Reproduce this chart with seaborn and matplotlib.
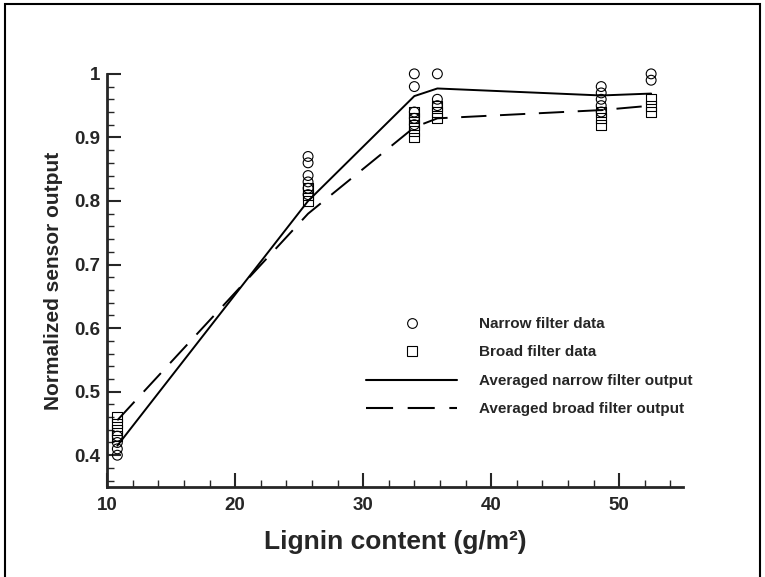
import numpy as np
import pandas as pd
import matplotlib
matplotlib.use("Agg")
import matplotlib.pyplot as plt
from matplotlib.lines import Line2D
from matplotlib.patches import Rectangle
from matplotlib.ticker import MultipleLocator, FuncFormatter
import seaborn as sns

# ---- data ----
lignin = [10.8, 25.7, 34.0, 35.8, 48.6, 52.5]
narrow_points = [
    [0.40, 0.41, 0.42, 0.43],
    [0.87, 0.86, 0.84, 0.83, 0.82, 0.81],
    [1.00, 0.98, 0.94, 0.93, 0.92],
    [1.00, 0.96, 0.95],
    [0.98, 0.97, 0.96, 0.95, 0.94],
    [1.00, 0.99],
]
broad_points = [
    [0.43, 0.44, 0.45, 0.46],
    [0.80, 0.81, 0.82],
    [0.94, 0.93, 0.92, 0.91, 0.90],
    [0.95, 0.94, 0.93],
    [0.94, 0.93, 0.92],
    [0.96, 0.95, 0.94],
]
narrow_avg = [0.415, 0.80, 0.965, 0.977, 0.966, 0.969]
broad_avg = [0.455, 0.78, 0.916, 0.930, 0.943, 0.950]

labels = ["Narrow filter data", "Broad filter data",
          "Averaged narrow filter output", "Averaged broad filter output"]
xlabel = "Lignin content (g/m²)"
ylabel = "Normalized sensor output"

# ---- tables ----
rows = []
for x, ys in zip(lignin, narrow_points):
    for y in ys:
        rows.append(dict(x=x, y=y, kind="narrow"))
for x, ys in zip(lignin, broad_points):
    for y in ys:
        rows.append(dict(x=x, y=y, kind="broad"))
pts = pd.DataFrame(rows)
avg = pd.DataFrame(dict(x=lignin, narrow=narrow_avg, broad=broad_avg))

sns.set_style("ticks")
plt.rcParams["font.family"] = ["Liberation Sans", "DejaVu Sans"]
plt.rcParams["font.weight"] = "bold"

fig = plt.figure(figsize=(7.65, 5.77), dpi=100)
ax = fig.add_axes([0.140, 0.156, 0.753, 0.716])

sns.lineplot(data=avg, x="x", y="narrow", ax=ax, color="black", lw=1.4,
             sort=False, estimator=None)
sns.lineplot(data=avg, x="x", y="broad", ax=ax, color="black", lw=1.4,
             sort=False, estimator=None)
ax.lines[1].set_dashes((13, 7))

sns.scatterplot(data=pts[pts.kind == "narrow"], x="x", y="y", ax=ax,
                marker="o", s=50, facecolor="none", edgecolor="black",
                linewidth=0.8, clip_on=False, zorder=3)
sns.scatterplot(data=pts[pts.kind == "broad"], x="x", y="y", ax=ax,
                marker="s", s=50, facecolor="none", edgecolor="black",
                linewidth=0.8, clip_on=False, zorder=3)

ax.set_xlim(10, 55)
ax.set_ylim(0.35, 1.0)
ax.xaxis.set_major_locator(MultipleLocator(10))
ax.xaxis.set_minor_locator(MultipleLocator(2))
ax.yaxis.set_major_locator(MultipleLocator(0.1))
ax.yaxis.set_minor_locator(MultipleLocator(0.02))
ax.yaxis.set_major_formatter(FuncFormatter(lambda v, p: f"{v:g}"))
ax.tick_params(which="major", direction="in", length=10, width=1.5,
               labelsize=13.5, pad=5)
ax.tick_params(axis="x", which="major", pad=7)
ax.tick_params(which="minor", direction="in", length=5, width=1.0)
for lab in ax.get_xticklabels() + ax.get_yticklabels():
    lab.set_fontweight("bold")
sns.despine(ax=ax)
for s in ("left", "bottom"):
    ax.spines[s].set_linewidth(2)

ax.set_xlabel(xlabel, fontsize=19, fontweight="bold", labelpad=12)
ax.set_ylabel(ylabel, fontsize=15, fontweight="bold", labelpad=8)

handles = [
    Line2D([], [], ls="none", marker="o", mfc="none", mec="black", ms=7, mew=0.8),
    Line2D([], [], ls="none", marker="s", mfc="none", mec="black", ms=7, mew=0.8),
    Line2D([], [], color="black", lw=1.5),
    Line2D([], [], color="black", lw=1.5, dashes=(13, 7)),
]
leg = ax.legend(handles, labels, loc="upper left", bbox_to_anchor=(0.425, 0.445),
                frameon=False, handlelength=6.0, handletextpad=1.4,
                labelspacing=0.95, numpoints=1,
                prop=dict(family="Liberation Sans", weight="bold", size=11))

fig.patches.append(Rectangle((0.007, -0.05), 0.986, 1.043, transform=fig.transFigure,
                             fill=False, edgecolor="black", lw=1.5))

fig.savefig("out.png", dpi=100, facecolor="white")
